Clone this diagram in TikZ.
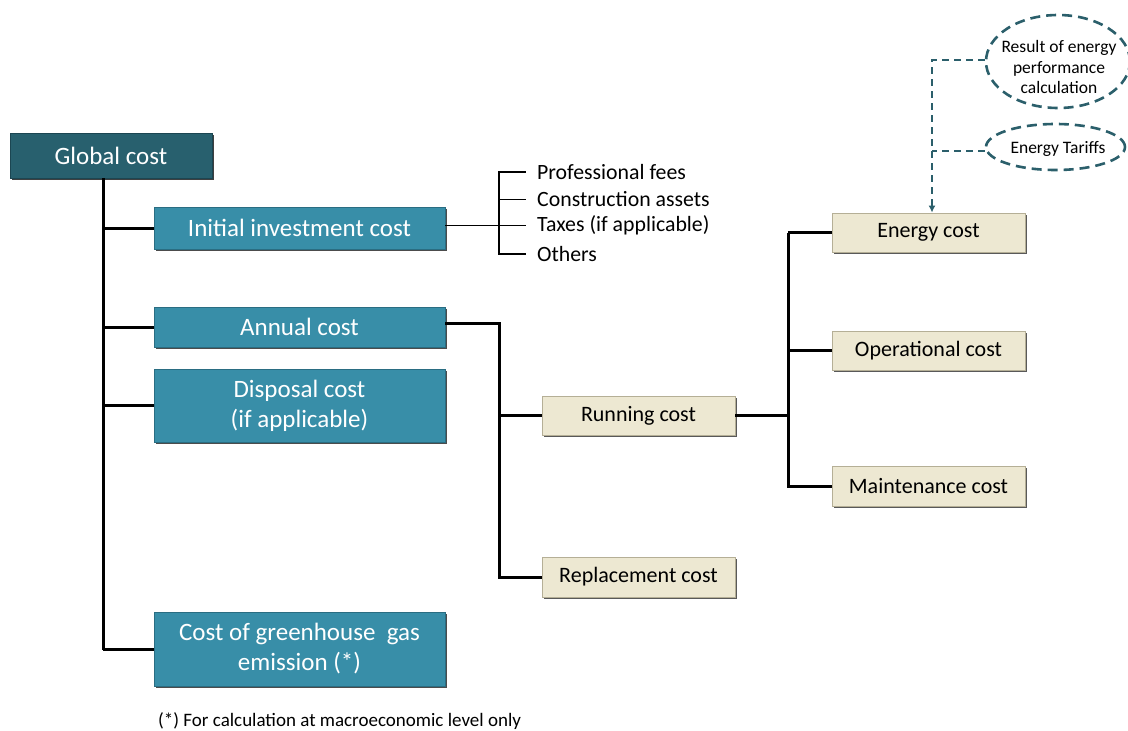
\documentclass[tikz,border=0pt]{standalone}
\usepackage{fontspec}
\setmainfont{Carlito}
\usetikzlibrary{shadows,arrows.meta,shapes.geometric}
\definecolor{gdark}{HTML}{28606E}
\definecolor{gdarkb}{HTML}{1C4652}
\definecolor{bblue}{HTML}{388EA8}
\definecolor{bblueb}{HTML}{2A6D82}
\definecolor{beige}{HTML}{EDE8D2}
\definecolor{beigeb}{HTML}{B5AF96}
\definecolor{dteal}{HTML}{2B5F6B}
\tikzset{
  gbox/.style={draw=gdarkb, line width=0.8pt, fill=gdark, text=white, font=\fontsize{25}{28}\selectfont,
    drop shadow={shadow xshift=1.5pt, shadow yshift=-1.5pt, fill=black!75, opacity=1}, inner sep=0pt, align=center},
  bbox/.style={draw=bblueb, line width=0.8pt, fill=bblue, text=white, font=\fontsize{25}{30}\selectfont,
    drop shadow={shadow xshift=1.5pt, shadow yshift=-1.5pt, fill=black!70, opacity=1}, inner sep=0pt, align=center, minimum width=291pt},
  cbox/.style={draw=beigeb, line width=0.8pt, fill=beige, text=black, font=\fontsize{22}{24}\selectfont,
    drop shadow={shadow xshift=1.5pt, shadow yshift=-1.5pt, fill=black!65, opacity=1}, inner sep=0pt, minimum width=193pt},
  ellbox/.style={ellipse, draw=dteal, line width=2.6pt, dash pattern=on 10pt off 6pt, fill=white, inner sep=0pt},
  elltxt/.style={inner sep=0pt, align=center, font=\fontsize{17.5}{20.5}\selectfont},
  listtxt/.style={anchor=west, inner sep=0pt, font=\fontsize{21.8}{24}\selectfont},
  conn/.style={line width=3pt, black},
  thinconn/.style={line width=1pt, black},
  dconn/.style={line width=2pt, dteal, dash pattern=on 7pt off 5pt},
}
\begin{document}
\begin{tikzpicture}[x=1pt,y=-1pt]
\useasboundingbox (0,0) rectangle (1128,731);

% main blue boxes
\node[gbox, minimum width=202pt, minimum height=45pt] (global) at (111,155.5) {Global cost};
\node[bbox, minimum height=42pt] (init) at (299.5,228) {Initial investment cost};
\node[bbox, minimum height=40pt] (annual) at (299.5,327) {Annual cost};
\node[bbox, minimum height=73pt] (disp) at (299.5,405.5) {Disposal cost\\(if applicable)};
\node[bbox, minimum height=74pt] (ghg) at (299.5,649) {Cost of greenhouse\ \ gas\\emission (*)};

% beige boxes
\node[cbox, minimum height=39pt] (running) at (638.5,415.5) {Running cost};
\node[cbox, minimum height=40pt] (replace) at (638.5,577) {Replacement cost};
\node[cbox, minimum height=39pt] (energy) at (928.5,232.5) {Energy cost};
\node[cbox, minimum height=39pt] (oper) at (928.5,350.5) {Operational cost};
\node[cbox, minimum height=40pt] (maint) at (928.5,486) {Maintenance cost};

% list items
\node[listtxt] (prof) at (537,172) {Professional fees};
\node[listtxt] (cons) at (537,199) {Construction assets};
\node[listtxt] (tax) at (537,225) {Taxes (if applicable)};
\node[listtxt] (oth) at (537,254) {Others};

% ellipses
\node[ellbox, minimum width=144pt, minimum height=93pt] (res) at (1058,61.5) {};
\node[elltxt] (restxt) at (1059,67) {Result of energy\\performance\\calculation};
\node[ellbox, minimum width=139pt, minimum height=46pt] (tar) at (1055.5,147) {};
\node[elltxt] (tartxt) at (1058,149) {Energy Tariffs};

% footnote
\node[anchor=west, inner sep=0pt, font=\fontsize{19}{22}\selectfont] (note) at (158,721) {(*) For calculation at macroeconomic level only};

% trunk
\coordinate (tx) at (103,650);
\draw[conn] (tx |- global.south) -- (tx);
\draw[conn] (tx |- init.west) -- (init.west);
\draw[conn] (tx |- annual.west) -- (annual.west);
\draw[conn] (tx |- disp.west) -- (disp.west);
\draw[conn] (tx |- ghg.west) -- (ghg.west);

% annual -> running / replacement
\coordinate (bx) at (499,577);
\draw[conn] ([yshift=4pt]annual.east) -| (bx) -- (replace.west);
\draw[conn] (bx |- running.west) -- (running.west);

% running -> energy / operational / maintenance
\coordinate (cx) at (788,486);
\draw[conn] (running.east) -- (cx |- running.east);
\draw[conn] (cx |- energy.west) -- (cx) -- (maint.west);
\draw[conn] (cx |- energy.west) -- (energy.west);
\draw[conn] (cx |- oper.west) -- (oper.west);

% initial investment list
\draw[thinconn] (init.east |- tax.west) -- ([xshift=-11pt]tax.west);
\draw[line width=1.6pt] ([xshift=-38pt]prof.west) -- ([xshift=-38pt]oth.west);
\draw[line width=1.8pt] ([xshift=-38.8pt]prof.west) -- ([xshift=-11pt]prof.west);
\draw[thinconn] ([xshift=-38pt]cons.west) -- ([xshift=-11pt]cons.west);
\draw[line width=1.8pt] ([xshift=-38.8pt]oth.west) -- ([xshift=-11pt]oth.west);

% dashed inputs
\coordinate (dx) at (932,0);
\coordinate (tarpt) at ([yshift=-4pt]tar.west);
\draw[dconn, -{Latex[length=7pt,width=7pt]}] ([yshift=1.5pt]res.west) -| (dx |- energy.north);
\draw[dconn] (tarpt) -- (dx |- tarpt);
\end{tikzpicture}
\end{document}
